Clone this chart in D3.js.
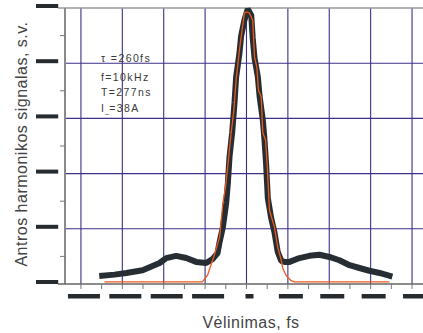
<!DOCTYPE html>
<html>
<head>
<meta charset="utf-8">
<script src="https://d3js.org/d3.v7.min.js"></script>
<style>
    body { margin: 0; background: #fff; }
    .note { font-family: "Liberation Sans", Arial, sans-serif; font-size: 10.5px; fill: #3a3a3a; letter-spacing: 1.4px; }
    .axis-title { font-family: "Liberation Sans", Arial, sans-serif; font-size: 16px; fill: #444; letter-spacing: 0.5px; }
</style>
</head>
<body>
<svg width="423" height="333"></svg>
<script>
    // measured (black squares) and fitted (orange) second harmonic signal
    const delayMeas = [-697, -638, -581, -502, -420, -388, -340, -291, -243, -195, -164, -140, -130, -114, -98, -90, -82, -69, -58, -50, -34, -26, -10, 6, 23, 30, 39, 55, 63, 79, 87, 95, 103, 119, 135, 151, 168, 184, 208, 256, 304, 353, 401, 449, 498, 546, 594, 643, 691];
    const signalMeas = [0.15, 0.17, 0.20, 0.25, 0.38, 0.47, 0.51, 0.47, 0.40, 0.38, 0.45, 0.56, 0.76, 1.03, 1.47, 1.83, 2.30, 2.75, 3.28, 3.75, 4.18, 4.49, 4.78, 4.98, 4.87, 4.46, 4.09, 3.75, 3.41, 2.97, 2.61, 2.16, 1.56, 1.20, 0.94, 0.58, 0.42, 0.40, 0.40, 0.47, 0.51, 0.53, 0.49, 0.43, 0.34, 0.29, 0.24, 0.20, 0.15];

    const delayFit = [-686, -213, -188, -155, -130, -114, -101, -92, -86, -74, -61, -50, -34, -26, -10, 1, 14, 30, 39, 50, 58, 71, 79, 92, 100, 111, 135, 151, 168, 175, 192, 216, 232, 691];
    const signalFit = [0.04, 0.04, 0.16, 0.53, 0.85, 1.47, 1.76, 2.07, 2.30, 2.74, 3.15, 3.70, 4.24, 4.47, 4.91, 4.93, 4.91, 4.78, 4.11, 3.93, 3.51, 3.39, 2.74, 2.61, 2.16, 1.34, 1.03, 0.67, 0.43, 0.29, 0.15, 0.06, 0.04, 0.04];

    const xTicks = [-800, -600, -400, -200, 0, 200, 400, 600, 800];
    const xMinor = d3.range(-800, 801, 100);
    const yTicks = [0, 1, 2, 3, 4, 5];
    const yLabels = ["0.0", "1.0", "2.0", "3.0", "4.0", "5.0"];
    const yMinor = [0.5, 1.5, 2.5, 3.5, 4.5];
    const notes = [["\u03c4 =260fs", ""], ["f=10kHz", ""], ["T=277ns", ""], ["I", "_", "=38A"]];

    const svg = d3.select("svg");
    const plotL = 65, plotR = 423, plotT = 8, plotB = 284;

    const x = d3.scaleLinear().domain([-877, 853]).range([plotL, plotR]);
    const y = d3.scaleLinear().domain([0, 5]).range([plotB, plotT]);

    // grid
    svg.append("g").selectAll("line")
        .data(xTicks)
        .enter().append("line")
        .attr("x1", d => x(d)).attr("x2", d => x(d))
        .attr("y1", plotT).attr("y2", plotB)
        .attr("stroke", "#3b2f88").attr("stroke-width", 1.1);

    svg.append("g").selectAll("line")
        .data(yTicks.slice(1, 5))
        .enter().append("line")
        .attr("x1", plotL).attr("x2", plotR)
        .attr("y1", d => y(d)).attr("y2", d => y(d))
        .attr("stroke", "#3b2f88").attr("stroke-width", 1.1);

    // frame
    svg.append("line").attr("x1", 58).attr("x2", plotR).attr("y1", plotT).attr("y2", plotT)
        .attr("stroke", "#999").attr("stroke-width", 1.5);
    svg.append("line").attr("x1", plotL).attr("x2", plotL).attr("y1", plotT).attr("y2", plotB)
        .attr("stroke", "#8a8a8a").attr("stroke-width", 2);
    svg.append("line").attr("x1", 58).attr("x2", plotR).attr("y1", plotB).attr("y2", plotB)
        .attr("stroke", "#666").attr("stroke-width", 1.5);

    // x ticks
    svg.append("g").selectAll("line")
        .data(xMinor)
        .enter().append("line")
        .attr("x1", d => x(d)).attr("x2", d => x(d))
        .attr("y1", plotB).attr("y2", plotB + 5)
        .attr("stroke", "#777").attr("stroke-width", 1);

    // y minor ticks
    svg.append("g").selectAll("line")
        .data(yMinor)
        .enter().append("line")
        .attr("x1", plotL - 5).attr("x2", plotL)
        .attr("y1", d => y(d)).attr("y2", d => y(d))
        .attr("stroke", "#777").attr("stroke-width", 1);

    // tick labels come out as solid dark bars in the original
    svg.append("g").selectAll("rect")
        .data(xTicks)
        .enter().append("rect")
        .attr("x", d => x(d) + 3 - String(d).length * 4)
        .attr("y", 294)
        .attr("width", d => String(d).length * 8)
        .attr("height", 4.5)
        .attr("fill", "#262b30");

    svg.append("g").selectAll("rect")
        .data(yTicks)
        .enter().append("rect")
        .attr("x", 36)
        .attr("y", d => y(d) - 4)
        .attr("width", (d, i) => yLabels[i].length * 7.4)
        .attr("height", 4)
        .attr("fill", "#262b30");

    // data
    const measPts = delayMeas.map((d, i) => [d, signalMeas[i]]);
    const fitPts = delayFit.map((d, i) => [d, signalFit[i]]);
    const line = d3.line().x(d => x(d[0])).y(d => y(d[1]));

    svg.append("path")
        .datum(measPts)
        .attr("d", line)
        .attr("fill", "none")
        .attr("stroke", "#262d33")
        .attr("stroke-width", 6)
        .attr("stroke-linecap", "square")
        .attr("stroke-linejoin", "bevel");

    svg.append("path")
        .datum(fitPts)
        .attr("d", line)
        .attr("fill", "none")
        .attr("stroke", "#ec5a1c")
        .attr("stroke-width", 1.3);

    // annotation
    const noteY = [61.5, 81, 95.5, 111.5];
    const notesG = svg.append("g").selectAll("text")
        .data(notes)
        .enter().append("text")
        .attr("class", "note")
        .attr("x", 101)
        .attr("y", (d, i) => noteY[i]);
    notesG.each(function (parts) {
        const t = d3.select(this);
        t.append("tspan").text(parts[0]);
        if (parts.length > 2) {
            t.append("tspan").attr("font-size", "7px").attr("letter-spacing", "0").attr("dy", 1).text(parts[1]);
            t.append("tspan").attr("dy", -1).text(parts[2]);
        }
    });

    // axis titles
    svg.append("text")
        .attr("class", "axis-title")
        .attr("text-anchor", "middle")
        .attr("transform", "translate(27,144) rotate(-90)")
        .text("Antros harmonikos signalas, s.v.");

    svg.append("text")
        .attr("class", "axis-title")
        .attr("text-anchor", "middle")
        .attr("x", 251)
        .attr("y", 328)
        .text("Vėlinimas, fs");
</script>
</body>
</html>
